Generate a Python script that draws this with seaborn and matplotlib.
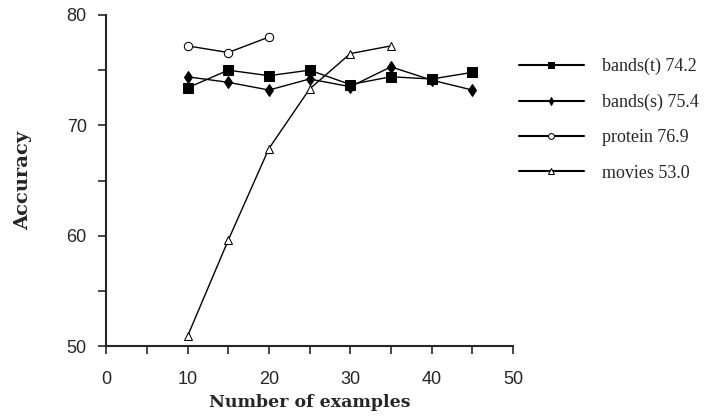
import numpy as np
import pandas as pd
import matplotlib
matplotlib.use("Agg")
import matplotlib.pyplot as plt
import seaborn as sns
from matplotlib.ticker import MultipleLocator

sns.set_style("ticks")
plt.rcParams['font.family'] = ['Liberation Sans', 'DejaVu Sans']

# 데이터
x_bands = [10, 15, 20, 25, 30, 35, 40, 45]
acc_bands_t = [73.4, 75.0, 74.5, 75.0, 73.7, 74.4, 74.2, 74.8]
acc_bands_s = [74.4, 73.9, 73.2, 74.2, 73.5, 75.3, 74.1, 73.2]
x_protein = [10, 15, 20]
acc_protein = [77.2, 76.6, 78.0]
x_movies = [10, 15, 20, 25, 30, 35]
acc_movies = [50.9, 59.6, 67.9, 73.3, 76.5, 77.2]
labels = ["bands(t) 74.2", "bands(s) 75.4", "protein 76.9", "movies 53.0"]

fig = plt.figure(figsize=(7.08, 4.16), dpi=100)
ax = fig.add_axes([0.15, 0.168, 0.5746, 0.796])

common = dict(color="black", linewidth=1.0, ax=ax, markeredgecolor="black")
sns.lineplot(x=x_bands, y=acc_bands_t, marker="s", markersize=7,
             markerfacecolor="black", label=labels[0], **common)
sns.lineplot(x=x_bands, y=acc_bands_s, marker="d", markersize=6,
             markerfacecolor="black", label=labels[1], **common)
sns.lineplot(x=x_protein, y=acc_protein, marker="o", markersize=6,
             markerfacecolor="white", label=labels[2], **common)
sns.lineplot(x=x_movies, y=acc_movies, marker="^", markersize=6,
             markerfacecolor="white", label=labels[3], **common)

ax.set_xlim(0, 50)
ax.set_ylim(50, 80)
ax.xaxis.set_major_locator(MultipleLocator(10))
ax.xaxis.set_minor_locator(MultipleLocator(5))
ax.yaxis.set_major_locator(MultipleLocator(10))
ax.yaxis.set_minor_locator(MultipleLocator(5))
ax.tick_params(which="both", direction="out", length=6, width=1.2, labelsize=13)
ax.tick_params(axis="x", pad=12)
ax.tick_params(axis="y", pad=8)
for s in ["left", "bottom"]:
    ax.spines[s].set_linewidth(1.5)
sns.despine(ax=ax)

ax.set_xlabel("Number of examples", fontsize=12.5, fontweight="heavy",
              family=["DejaVu Serif"], labelpad=4)
ax.set_ylabel("Accuracy", fontsize=14, fontweight="heavy",
              family=["DejaVu Serif"], labelpad=25)

leg = ax.legend(loc="upper left", bbox_to_anchor=(0.71, 0.9),
                bbox_transform=fig.transFigure, frameon=False,
                handlelength=3.6, labelspacing=1.02, handletextpad=1.0,
                markerscale=0.7,
                prop={"family": "Liberation Serif", "size": 13})
for line in leg.get_lines():
    line.set_linewidth(1.5)

fig.savefig("out.png", dpi=100)
